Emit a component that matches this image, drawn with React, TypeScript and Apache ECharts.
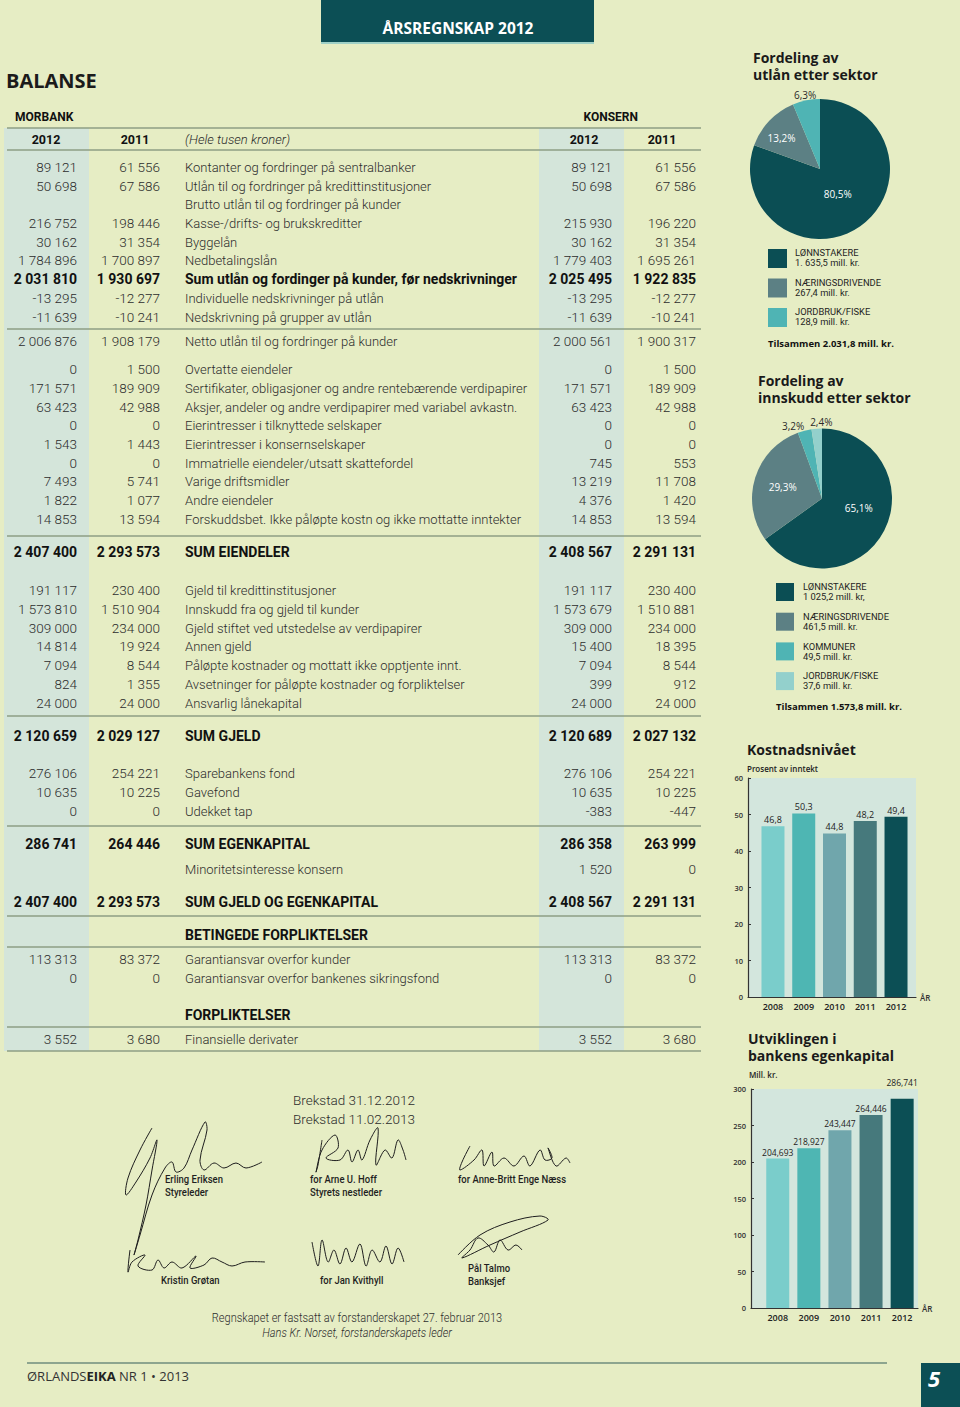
import React, { useEffect, useRef } from 'react';
import * as echarts from 'echarts';

// ---------------- DATA ----------------
const TABLE_LABELS = [
  'Kontanter og fordringer på sentralbanker',
  'Utlån til og fordringer på kredittinstitusjoner',
  'Brutto utlån til og fordringer på kunder',
  'Kasse-/drifts- og brukskreditter',
  'Byggelån',
  'Nedbetalingslån',
  'Sum utlån og fordinger på kunder, før nedskrivninger',
  'Individuelle nedskrivninger på utlån',
  'Nedskrivning på grupper av utlån',
  'Netto utlån til og fordringer på kunder',
  'Overtatte eiendeler',
  'Sertifikater, obligasjoner og andre rentebærende verdipapirer',
  'Aksjer, andeler og andre verdipapirer med variabel avkastn.',
  'Eierintresser i tilknyttede selskaper',
  'Eierintresser i konsernselskaper',
  'Immatrielle eiendeler/utsatt skattefordel',
  'Varige driftsmidler',
  'Andre eiendeler',
  'Forskuddsbet. Ikke påløpte kostn og ikke mottatte inntekter',
  'SUM EIENDELER',
  'Gjeld til kredittinstitusjoner',
  'Innskudd fra og gjeld til kunder',
  'Gjeld stiftet ved utstedelse av verdipapirer',
  'Annen gjeld',
  'Påløpte kostnader og mottatt ikke opptjente innt.',
  'Avsetninger for påløpte kostnader og forpliktelser',
  'Ansvarlig lånekapital',
  'SUM GJELD',
  'Sparebankens fond',
  'Gavefond',
  'Udekket tap',
  'SUM EGENKAPITAL',
  'Minoritetsinteresse konsern',
  'SUM GJELD OG EGENKAPITAL',
  'BETINGEDE FORPLIKTELSER',
  'Garantiansvar overfor kunder',
  'Garantiansvar overfor bankenes sikringsfond',
  'FORPLIKTELSER',
  'Finansielle derivater',
];
const MORBANK_2012 = [89121, 50698, null, 216752, 30162, 1784896, 2031810, -13295, -11639, 2006876,
  0, 171571, 63423, 0, 1543, 0, 7493, 1822, 14853, 2407400,
  191117, 1573810, 309000, 14814, 7094, 824, 24000, 2120659,
  276106, 10635, 0, 286741, null, 2407400, null, 113313, 0, null, 3552];
const MORBANK_2011 = [61556, 67586, null, 198446, 31354, 1700897, 1930697, -12277, -10241, 1908179,
  1500, 189909, 42988, 0, 1443, 0, 5741, 1077, 13594, 2293573,
  230400, 1510904, 234000, 19924, 8544, 1355, 24000, 2029127,
  254221, 10225, 0, 264446, null, 2293573, null, 83372, 0, null, 3680];
const KONSERN_2012 = [89121, 50698, null, 215930, 30162, 1779403, 2025495, -13295, -11639, 2000561,
  0, 171571, 63423, 0, 0, 745, 13219, 4376, 14853, 2408567,
  191117, 1573679, 309000, 15400, 7094, 399, 24000, 2120689,
  276106, 10635, -383, 286358, 1520, 2408567, null, 113313, 0, null, 3552];
const KONSERN_2011 = [61556, 67586, null, 196220, 31354, 1695261, 1922835, -12277, -10241, 1900317,
  1500, 189909, 42988, 0, 0, 553, 11708, 1420, 13594, 2291131,
  230400, 1510881, 234000, 18395, 8544, 912, 24000, 2027132,
  254221, 10225, -447, 263999, 0, 2291131, null, 83372, 0, null, 3680];

const LOAN_SECTORS = ['LØNNSTAKERE', 'NÆRINGSDRIVENDE', 'JORDBRUK/FISKE'];
const LOAN_SHARE = [80.5, 13.2, 6.3];
const LOAN_AMOUNT_TEXT = ['1. 635,5 mill. kr.', '267,4 mill. kr.', '128,9 mill. kr.'];
const LOAN_TOTAL_TEXT = 'Tilsammen 2.031,8 mill. kr.';

const DEPOSIT_SECTORS = ['LØNNSTAKERE', 'NÆRINGSDRIVENDE', 'KOMMUNER', 'JORDBRUK/FISKE'];
const DEPOSIT_SHARE = [65.1, 29.3, 3.2, 2.4];
const DEPOSIT_AMOUNT_TEXT = ['1 025,2 mill. kr,', '461,5 mill. kr.', '49,5 mill. kr.', '37,6 mill. kr.'];
const DEPOSIT_TOTAL_TEXT = 'Tilsammen 1.573,8 mill. kr.';

const YEARS = ['2008', '2009', '2010', '2011', '2012'];
const COST_PCT = [46.8, 50.3, 44.8, 48.2, 49.4];
const EQUITY_MNOK = [204.693, 218.927, 243.447, 264.446, 286.741];

// ---------------- LAYOUT / STYLE ----------------
const BG = '#e6edc4';
const BAND = '#d4e5da';
const RULE = '#8e9e84';
const DARK = '#0c4f55';
const INK = '#2c2c2c';
const PIE1_COLORS = ['#0b4e54', '#5c8084', '#4fb4b4'];
const PIE2_COLORS = ['#0b4e54', '#5c8084', '#4fb4b4', '#93d0cc'];
const BAR_COLORS = ['#7acdcb', '#4eb6b3', '#70a6ac', '#46797c', '#0c4f55'];
const PLOT_BG = '#d3e6dd';

// row style: n = normal, b = bold, h = section header
const ROW_STYLE = ['n', 'n', 'n', 'n', 'n', 'n', 'b', 'n', 'n', 'n',
  'n', 'n', 'n', 'n', 'n', 'n', 'n', 'n', 'n', 'b',
  'n', 'n', 'n', 'n', 'n', 'n', 'n', 'b',
  'n', 'n', 'n', 'b', 'n', 'b', 'h', 'n', 'n', 'h', 'n'];
const ROW_Y = [167, 186, 204, 223, 242, 260, 279, 298, 317, 341,
  369, 388, 407, 425, 444, 463, 481, 500, 519, 552,
  590, 609, 628, 646, 665, 684, 703, 736,
  773, 792, 811, 844, 869, 902, 935, 959, 978, 1015, 1039];
const RULE_Y = [128, 150, 329, 536, 716, 826, 916, 947, 1027, 1051];
const COL_RIGHT = [77, 160, 612, 696];
const LABEL_X = 185;

const PIE1_NUDGE = [[-4, -6], [-11, -5], [0, 1]];
const PIE2_NUDGE = [[3, -8], [-3, 0], [-10, 1], [5, -1]];
const PIE1_OUTSIDE = [false, false, true];
const PIE2_OUTSIDE = [false, false, true, true];
const EQUITY_LABEL_LIFT = [0, 0, 0, 0, 10];

const fmtNum = (v: number | null) => {
  if (v === null || v === undefined) return '';
  const s = Math.abs(v).toString().replace(/\B(?=(\d{3})+(?!\d))/g, ' ');
  return (v < 0 ? '-' : '') + s;
};
const fmtComma = (v: number, d: number) => v.toFixed(d).replace('.', ',');

type TOpt = { fill?: string; size?: number; family?: string; weight?: any; style?: string; align?: string; sx?: number };
const T = (text: string, x: number, y: number, o: TOpt = {}) => ({
  type: 'text',
  x,
  y,
  scaleX: o.sx || 1,
  silent: true,
  style: {
    text,
    fill: o.fill || INK,
    fontSize: o.size || 13,
    fontFamily: o.family || 'Roboto',
    fontWeight: o.weight === undefined ? 300 : o.weight,
    fontStyle: o.style || 'normal',
    align: o.align || 'left',
    verticalAlign: 'middle',
    textAlign: o.align || 'left',
    textVerticalAlign: 'middle',
  },
});
const R = (x: number, y: number, w: number, h: number, fill: string) => ({
  type: 'rect', silent: true, shape: { x, y, width: w, height: h }, style: { fill },
});
const L = (x1: number, y1: number, x2: number, y2: number, stroke: string, lw = 1.3) => ({
  type: 'line', silent: true, shape: { x1, y1, x2, y2 }, style: { stroke, lineWidth: lw },
});
const SIG = (points: number[][]) => ({
  type: 'polyline', silent: true, shape: { points, smooth: 0.35 },
  style: { stroke: '#1e1e1e', lineWidth: 1, fill: null },
});

const SIGNATURES = [
  [[152, 1128], [140, 1150], [128, 1178], [126, 1195], [136, 1182], [150, 1158], [157, 1140], [152, 1170], [146, 1205], [138, 1240], [134, 1255], [140, 1235], [152, 1195], [165, 1168], [172, 1162], [176, 1172], [184, 1168], [192, 1150], [205, 1122], [207, 1130], [200, 1160], [204, 1170], [214, 1163], [224, 1168], [236, 1163], [246, 1168], [262, 1162]],
  [[322, 1140], [318, 1165], [316, 1172], [322, 1150], [335, 1135], [338, 1148], [326, 1158], [340, 1160], [348, 1150], [352, 1162], [358, 1150], [362, 1160], [370, 1140], [378, 1128], [376, 1165], [385, 1150], [392, 1158], [398, 1140], [403, 1150], [406, 1160]],
  [[470, 1146], [462, 1162], [460, 1170], [474, 1160], [482, 1150], [484, 1166], [492, 1152], [494, 1166], [504, 1158], [514, 1166], [524, 1156], [530, 1166], [540, 1150], [545, 1160], [552, 1158], [548, 1148], [556, 1166], [566, 1158], [570, 1163]],
  [[130, 1250], [128, 1272], [132, 1262], [145, 1255], [138, 1266], [152, 1270], [158, 1260], [164, 1268], [172, 1262], [182, 1268], [196, 1256], [190, 1268], [204, 1265], [212, 1258], [222, 1262], [232, 1266], [245, 1262], [265, 1262]],
  [[312, 1242], [318, 1266], [322, 1240], [328, 1262], [334, 1250], [340, 1264], [346, 1248], [352, 1262], [360, 1244], [366, 1266], [372, 1250], [380, 1262], [386, 1246], [392, 1264], [398, 1248], [404, 1262]],
  [[458, 1255], [480, 1235], [510, 1222], [540, 1216], [548, 1220], [520, 1232], [490, 1245], [462, 1258], [470, 1250], [478, 1238], [488, 1245], [494, 1252], [500, 1240], [508, 1250], [516, 1245], [522, 1250]],
];

function buildGraphic() {
  const els: any[] = [];
  // banner
  els.push(R(321, 0, 273, 42, DARK));
  els.push(R(321, 42, 273, 2, '#9fd0c6'));
  els.push(T('ÅRSREGNSKAP 2012', 458, 28, { fill: '#ffffff', size: 15.5, family: 'Open Sans', weight: 'bold', align: 'center' }));
  els.push(T('BALANSE', 6, 80, { fill: '#1b1b1b', size: 20, family: 'Open Sans', weight: 'bold' }));
  els.push(T('MORBANK', 15, 117, { fill: '#111', size: 12, weight: 700 }));
  els.push(T('KONSERN', 638, 117, { fill: '#111', size: 12, weight: 700, align: 'right' }));
  // column bands
  els.push(R(4, 128, 85, 923, BAND));
  els.push(R(539, 128, 85, 923, BAND));
  RULE_Y.forEach((y) => els.push(L(7, y, 701, y, RULE)));
  // header row
  els.push(T('2012', 46, 139, { fill: '#111', size: 12.5, weight: 700, align: 'center' }));
  els.push(T('2011', 135, 139, { fill: '#111', size: 12.5, weight: 700, align: 'center' }));
  els.push(T('(Hele tusen kroner)', LABEL_X, 139, { size: 13, style: 'italic' }));
  els.push(T('2012', 584, 139, { fill: '#111', size: 12.5, weight: 700, align: 'center' }));
  els.push(T('2011', 662, 139, { fill: '#111', size: 12.5, weight: 700, align: 'center' }));
  // rows
  TABLE_LABELS.forEach((label, i) => {
    const y = ROW_Y[i];
    const st = ROW_STYLE[i];
    const bold = st !== 'n';
    const o: TOpt = bold ? { fill: '#111', weight: 700, size: 14 } : {};
    els.push(T(label, LABEL_X, y, o));
    const vals = [MORBANK_2012[i], MORBANK_2011[i], KONSERN_2012[i], KONSERN_2011[i]];
    vals.forEach((v, c) => {
      if (v === null) return;
      els.push(T(fmtNum(v), COL_RIGHT[c], y, { ...(bold ? { fill: '#111', weight: 700, size: 14 } : { size: 13.5 }), align: 'right' }));
    });
  });

  const legTxt: TOpt = { fill: '#1f1f1f', size: 8.5, family: 'Roboto', weight: 400, sx: 1.1 };
  // pie 1 titles & legend
  els.push(T('Fordeling av', 753, 57, { fill: '#1a1a1a', size: 14, family: 'Open Sans', weight: 'bold' }));
  els.push(T('utlån etter sektor', 753, 74, { fill: '#1a1a1a', size: 14, family: 'Open Sans', weight: 'bold' }));
  LOAN_SECTORS.forEach((s, i) => {
    const y0 = 249 + i * 29.5;
    els.push(R(768, y0, 19, 19, PIE1_COLORS[i]));
    els.push(T(s, 795, y0 + 4.5, legTxt));
    els.push(T(LOAN_AMOUNT_TEXT[i], 795, y0 + 14.5, legTxt));
  });
  els.push(T(LOAN_TOTAL_TEXT, 768, 343, { fill: '#111', size: 9.5, family: 'Open Sans', weight: 'bold' }));

  // pie 2 titles & legend
  els.push(T('Fordeling av', 758, 380, { fill: '#1a1a1a', size: 14, family: 'Open Sans', weight: 'bold' }));
  els.push(T('innskudd etter sektor', 758, 397, { fill: '#1a1a1a', size: 14, family: 'Open Sans', weight: 'bold' }));
  DEPOSIT_SECTORS.forEach((s, i) => {
    const y0 = 583 + i * 29.7;
    els.push(R(776, y0, 18, 18, PIE2_COLORS[i]));
    els.push(T(s, 803, y0 + 4.5, legTxt));
    els.push(T(DEPOSIT_AMOUNT_TEXT[i], 803, y0 + 14.5, legTxt));
  });
  els.push(T(DEPOSIT_TOTAL_TEXT, 776, 706, { fill: '#111', size: 9.5, family: 'Open Sans', weight: 'bold' }));

  // bar chart titles
  els.push(T('Kostnadsnivået', 747, 749, { fill: '#1a1a1a', size: 14, family: 'Open Sans', weight: 'bold' }));
  els.push(T('Prosent av inntekt', 747, 768, { fill: '#222', size: 8, family: 'Open Sans', weight: 600 }));
  els.push(T('Utviklingen i', 748, 1038, { fill: '#1a1a1a', size: 14, family: 'Open Sans', weight: 'bold' }));
  els.push(T('bankens egenkapital', 748, 1055, { fill: '#1a1a1a', size: 14, family: 'Open Sans', weight: 'bold' }));
  els.push(T('Mill. kr.', 749, 1074, { fill: '#222', size: 8, family: 'Open Sans', weight: 600 }));

  // signatures block
  els.push(T('Brekstad 31.12.2012', 293, 1100, { size: 13.5 }));
  els.push(T('Brekstad 11.02.2013', 293, 1119, { size: 13.5 }));
  SIGNATURES.forEach((p) => els.push(SIG(p)));
  const nm: TOpt = { fill: '#1f1f1f', size: 10, weight: 500, sx: 0.95 };
  els.push(T('Erling Eriksen', 165, 1179, nm));
  els.push(T('Styreleder', 165, 1192, nm));
  els.push(T('for Arne U. Hoff', 310, 1179, nm));
  els.push(T('Styrets nestleder', 310, 1192, nm));
  els.push(T('for Anne-Britt Enge Næss', 458, 1179, nm));
  els.push(T('Kristin Grøtan', 161, 1280, nm));
  els.push(T('for Jan Kvithyll', 320, 1280, nm));
  els.push(T('Pål Talmo', 468, 1268, nm));
  els.push(T('Banksjef', 468, 1281, nm));
  els.push(T('Regnskapet er fastsatt av forstanderskapet 27. februar 2013', 357, 1318, { size: 12, align: 'center', sx: 0.92 }));
  els.push(T('Hans Kr. Norset, forstanderskapets leder', 357, 1333, { size: 12, style: 'italic', align: 'center', sx: 0.92 }));

  // footer
  els.push(L(27, 1363, 887, 1363, '#6f8d7e', 1.3));
  els.push({
    type: 'text', x: 27, y: 1376, silent: true,
    style: {
      text: '{a|ØRLANDS}{b|EIKA}{a| NR 1 • 2013}',
      verticalAlign: 'middle', textVerticalAlign: 'middle', align: 'left', textAlign: 'left',
      rich: {
        a: { fontSize: 13, fontFamily: 'Open Sans', fill: '#333', color: '#333' },
        b: { fontSize: 13, fontFamily: 'Open Sans', fontWeight: 'bold', fill: '#222', color: '#222' },
      },
    },
  });
  els.push(R(921, 1363, 39, 44, DARK));
  els.push(T('5', 934, 1378, { fill: '#ffffff', size: 22, family: 'Open Sans', weight: 'bold', style: 'italic', align: 'center' }));
  return els;
}

function pieSeries(names: string[], shares: number[], colors: string[], center: number[], nudge: number[][], outside: boolean[]) {
  return {
    type: 'pie',
    center,
    radius: 70,
    startAngle: 90,
    clockwise: true,
    silent: true,
    avoidLabelOverlap: false,
    data: names.map((n, i) => ({
      name: n,
      value: shares[i],
      itemStyle: { color: colors[i] },
      label: outside[i]
        ? { position: 'outside', color: '#2a2a2a', distanceToLabelLine: 0 }
        : { position: 'inside', color: '#ffffff' },
      labelLine: { show: false, length: 6, length2: 0 },
    })),
    label: {
      show: true,
      fontSize: 10,
      fontFamily: 'Open Sans',
      formatter: (p: any) => fmtComma(p.value, 1) + '%',
    },
    labelLine: { show: false, length: 6, length2: 0 },
    labelLayout: (p: any) => {
      const n = nudge[p.dataIndex];
      const r: any = { dx: n[0], dy: n[1] };
      if (outside[p.dataIndex]) r.align = 'center';
      return r;
    },
  };
}

function barGrids(left: number, top: number, width: number, height: number, barLeft: number, barArea: number) {
  return [
    { left, top, width, height, show: true, backgroundColor: PLOT_BG, borderWidth: 0 },
    { left: barLeft, top, width: barArea, height, show: false },
  ];
}

export default function App() {
  const ref = useRef<HTMLDivElement>(null);
  useEffect(() => {
    if (!ref.current) return;
    const chart = echarts.init(ref.current, null, { renderer: 'svg' });
    const axisTxt = { fontSize: 7.5, color: '#333', fontFamily: 'Open Sans', fontWeight: 600 };
    const bgXAxis = (gridIndex: number) => ({
      type: 'value', gridIndex, min: 0, max: 1,
      axisLabel: { show: false }, splitLine: { show: false }, axisTick: { show: false },
      axisLine: { show: true, lineStyle: { color: '#333', width: 1.2 } },
      name: 'ÅR', nameLocation: 'end', nameGap: 4,
      nameTextStyle: { fontSize: 8, color: '#333', fontFamily: 'Open Sans', fontWeight: 600 },
    });
    const bgYAxis = (gridIndex: number, max: number, interval: number) => ({
      type: 'value', gridIndex, min: 0, max, interval,
      axisLine: { show: true, lineStyle: { color: '#333', width: 1.2 } },
      axisTick: { show: true, inside: true, length: 3, lineStyle: { color: '#333' } },
      axisLabel: { ...axisTxt, margin: 5 },
      splitLine: { show: false },
    });
    const catXAxis = (gridIndex: number) => ({
      type: 'category', gridIndex, data: YEARS,
      axisLine: { show: false }, axisTick: { show: false },
      axisLabel: { fontSize: 9, color: '#222', fontFamily: 'Open Sans', fontWeight: 600, margin: 5 },
    });
    const hidY = (gridIndex: number, max: number) => ({ type: 'value', gridIndex, min: 0, max, show: false });

    chart.setOption({
      animation: false,
      backgroundColor: BG,
      graphic: { elements: buildGraphic() },
      grid: [...barGrids(748, 778, 168, 219, 757.6, 153.8), ...barGrids(751, 1089, 167, 219, 762.2, 155.5)],
      xAxis: [bgXAxis(0), catXAxis(1), bgXAxis(2), catXAxis(3)],
      yAxis: [bgYAxis(0, 60, 10), hidY(1, 60), bgYAxis(2, 300, 50), hidY(3, 300)],
      series: [
        pieSeries(LOAN_SECTORS, LOAN_SHARE, PIE1_COLORS, [820, 169], PIE1_NUDGE, PIE1_OUTSIDE),
        pieSeries(DEPOSIT_SECTORS, DEPOSIT_SHARE, PIE2_COLORS, [822, 498.5], PIE2_NUDGE, PIE2_OUTSIDE),
        {
          type: 'bar', xAxisIndex: 1, yAxisIndex: 1, barWidth: 23, silent: true,
          data: COST_PCT.map((v, i) => ({ value: v, itemStyle: { color: BAR_COLORS[i] } })),
          label: {
            show: true, position: 'top', distance: 2, fontSize: 9, color: '#222', fontFamily: 'Open Sans',
            formatter: (p: any) => fmtComma(p.value, 1),
          },
        },
        {
          type: 'bar', xAxisIndex: 3, yAxisIndex: 3, barWidth: 23, silent: true,
          data: EQUITY_MNOK.map((v, i) => ({
            value: v,
            itemStyle: { color: BAR_COLORS[i] },
            label: { distance: 2 + EQUITY_LABEL_LIFT[i] },
          })),
          label: {
            show: true, position: 'top', distance: 2, fontSize: 8.5, color: '#222', fontFamily: 'Open Sans',
            formatter: (p: any) => fmtComma(p.value, 3),
          },
        },
      ],
    });
    return () => chart.dispose();
  }, []);
  return <div ref={ref} style={{ position: 'absolute', left: 0, top: 0, width: 960, height: 1407 }} />;
}
